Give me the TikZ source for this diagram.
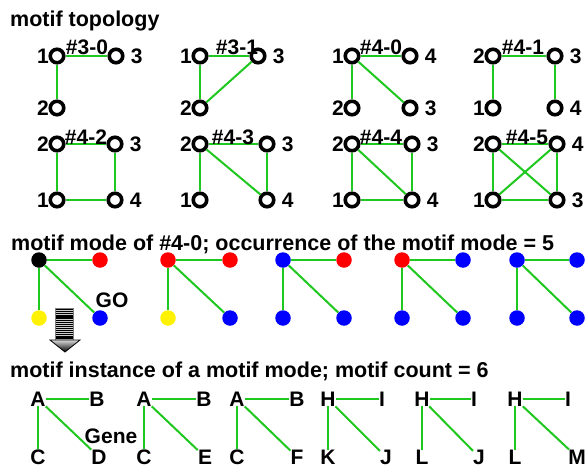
\documentclass[tikz,border=0pt]{standalone}
\usepackage{fontspec}
\setmainfont{Liberation Sans}
\definecolor{edgegreen}{RGB}{30,200,30}
\begin{document}
\begin{tikzpicture}[x=1pt, y=-1pt,
  tnode/.style={circle, draw, line width=3.6pt, fill=white, minimum size=13.5pt, inner sep=0pt},
  dot/.style={circle, fill=#1, minimum size=15.5pt, inner sep=0pt},
  gline/.style={edgegreen, line width=2pt},
  lab/.style={font=\fontsize{21}{21}\selectfont\bfseries, inner sep=0pt},
  ttl/.style={font=\fontsize{21.5}{21.5}\selectfont\bfseries, anchor=base west, inner sep=0pt},
  ln/.style={label={[lab, label distance=-0.5pt]left:#1}},
  rn/.style={label={[lab, label distance=6pt]right:#1}}]
  \useasboundingbox (0,0) rectangle (585,468);

  % titles
  \node[ttl] (t1) at (10,27) {motif topology};
  \node[ttl] (t2) at (11,250) {motif mode of \#4-0; occurrence of the motif mode = 5};
  \node[ttl] (t3) at (10,377) {motif instance of a motif mode; motif count = 6};

  % motif topology, first row
  \node[tnode, ln=1] (a1) at (57,56){};
  \node[tnode, rn=3] (a3) at (116,56){};
  \node[tnode, ln=2] (a2) at (57,108){};
  \draw[gline](a1) -- (a3);
  \draw[gline](a1) -- (a2);
  \node[lab] (la) at (87,47){\#3-0};

  \node[tnode, ln=1] (b1) at (200,56){};
  \node[tnode, rn=3] (b3) at (258,56){};
  \node[tnode, ln=2] (b2) at (200,108){};
  \draw[gline](b1) -- (b3);
  \draw[gline](b1) -- (b2);
  \draw[gline](b2) -- (b3);
  \node[lab] (lb) at (237,47){\#3-1};

  \node[tnode, ln=1] (c1) at (352,56){};
  \node[tnode, rn=4] (c4) at (410,56){};
  \node[tnode, ln=2] (c2) at (352,108){};
  \node[tnode, rn=3] (c3) at (410,108){};
  \draw[gline](c1) -- (c4);
  \draw[gline](c1) -- (c2);
  \draw[gline](c1) -- (c3);
  \node[lab] (lc) at (381,47){\#4-0};

  \node[tnode, ln=2] (d2) at (493,56){};
  \node[tnode, rn=3] (d3) at (555,56){};
  \node[tnode, ln=1] (d1) at (493,108){};
  \node[tnode, rn=4] (d4) at (555,108){};
  \draw[gline](d2) -- (d3);
  \draw[gline](d2) -- (d1);
  \draw[gline](d3) -- (d4);
  \node[lab] (ld) at (523,47){\#4-1};

  % motif topology, second row
  \node[tnode, ln=2] (e2) at (57,144){};
  \node[tnode, rn=3] (e3) at (115,144){};
  \node[tnode, ln=1] (e1) at (57,200){};
  \node[tnode, rn=4] (e4) at (115,200){};
  \draw[gline](e2) -- (e3);
  \draw[gline](e2) -- (e1);
  \draw[gline](e3) -- (e4);
  \draw[gline](e1) -- (e4);
  \node[lab] (le) at (86,137){\#4-2};

  \node[tnode, ln=2] (f2) at (200,144){};
  \node[tnode, rn=3] (f3) at (267,144){};
  \node[tnode, ln=1] (f1) at (200,200){};
  \node[tnode, rn=4] (f4) at (267,200){};
  \draw[gline](f2) -- (f3);
  \draw[gline](f2) -- (f1);
  \draw[gline](f2) -- (f4);
  \draw[gline](f3) -- (f4);
  \node[lab] (lf) at (233,137){\#4-3};

  \node[tnode, ln=2] (g2) at (352,144){};
  \node[tnode, rn=3] (g3) at (412,144){};
  \node[tnode, ln=1] (g1) at (352,200){};
  \node[tnode, rn=4] (g4) at (412,200){};
  \draw[gline](g2) -- (g3);
  \draw[gline](g2) -- (g1);
  \draw[gline](g2) -- (g4);
  \draw[gline](g3) -- (g4);
  \draw[gline](g1) -- (g4);
  \node[lab] (lg) at (381,137){\#4-4};

  \node[tnode, ln=2] (h2) at (493,144){};
  \node[tnode, rn=4] (h4) at (557,144){};
  \node[tnode, ln=1] (h1) at (493,200){};
  \node[tnode, rn=3] (h3) at (557,200){};
  \draw[gline](h2) -- (h4);
  \draw[gline](h2) -- (h1);
  \draw[gline](h2) -- (h3);
  \draw[gline](h4) -- (h1);
  \draw[gline](h4) -- (h3);
  \draw[gline](h1) -- (h3);
  \node[lab] (lh) at (527,137){\#4-5};

  % motif modes
  \node[dot=black] (m1a) at (39,260){};
  \node[dot=red] (m1b) at (100,260){};
  \node[dot=yellow] (m1c) at (39,318){};
  \node[dot=blue] (m1d) at (100,318){};
  \draw[gline](m1a) -- (m1b);
  \draw[gline](m1a) -- (m1c);
  \draw[gline](m1a) -- (m1d);
  \node[lab] (go) at (112,300){GO};

  \node[dot=red] (m2a) at (168,260){};
  \node[dot=red] (m2b) at (230,260){};
  \node[dot=yellow] (m2c) at (168,318){};
  \node[dot=blue] (m2d) at (230,318){};
  \draw[gline](m2a) -- (m2b);
  \draw[gline](m2a) -- (m2c);
  \draw[gline](m2a) -- (m2d);

  \node[dot=blue] (m3a) at (283,260){};
  \node[dot=red] (m3b) at (344,260){};
  \node[dot=blue] (m3c) at (283,318){};
  \node[dot=blue] (m3d) at (344,318){};
  \draw[gline](m3a) -- (m3b);
  \draw[gline](m3a) -- (m3c);
  \draw[gline](m3a) -- (m3d);

  \node[dot=red] (m4a) at (402,260){};
  \node[dot=blue] (m4b) at (463,260){};
  \node[dot=blue] (m4c) at (402,318){};
  \node[dot=blue] (m4d) at (463,318){};
  \draw[gline](m4a) -- (m4b);
  \draw[gline](m4a) -- (m4c);
  \draw[gline](m4a) -- (m4d);

  \node[dot=blue] (m5a) at (517,260){};
  \node[dot=blue] (m5b) at (577,260){};
  \node[dot=blue] (m5c) at (517,318){};
  \node[dot=blue] (m5d) at (577,318){};
  \draw[gline](m5a) -- (m5b);
  \draw[gline](m5a) -- (m5c);
  \draw[gline](m5a) -- (m5d);

  % arrow down to the instances
  \draw[gray, fill=gray!40] (55,308) rectangle (73,340);
  \draw[line width=17pt, dash pattern=on 1.2pt off 0.9pt] (64,309) -- (64,339);
  \shade[top color=gray!30, bottom color=black, draw=black, line width=0.8pt] (50,340) -- (80,340) -- (65,352) -- cycle;

  % motif instances
  \node[lab] (i1a) at (38,399){A};
  \node[lab] (i1b) at (97,399){B};
  \node[lab] (i1c) at (38,457){C};
  \node[lab] (i1d) at (99,457){D};
  \draw[gline](i1a) -- (i1b);
  \draw[gline](i1a) -- (i1c);
  \draw[gline](i1a) -- (i1d);
  \node[lab] (gene) at (111,436){Gene};

  \node[lab] (i2a) at (144,399){A};
  \node[lab] (i2b) at (204,399){B};
  \node[lab] (i2c) at (144,457){C};
  \node[lab] (i2e) at (205,457){E};
  \draw[gline](i2a) -- (i2b);
  \draw[gline](i2a) -- (i2c);
  \draw[gline](i2a) -- (i2e);

  \node[lab] (i3a) at (237,399){A};
  \node[lab] (i3b) at (297,399){B};
  \node[lab] (i3c) at (237,457){C};
  \node[lab] (i3f) at (297,457){F};
  \draw[gline](i3a) -- (i3b);
  \draw[gline](i3a) -- (i3c);
  \draw[gline](i3a) -- (i3f);

  \node[lab] (i4h) at (328,399){H};
  \node[lab] (i4i) at (382,399){I};
  \node[lab] (i4k) at (328,457){K};
  \node[lab] (i4j) at (386,457){J};
  \draw[gline](i4h) -- (i4i);
  \draw[gline](i4h) -- (i4k);
  \draw[gline](i4h) -- (i4j);

  \node[lab] (i5h) at (422,399){H};
  \node[lab] (i5i) at (474,399){I};
  \node[lab] (i5l) at (422,457){L};
  \node[lab] (i5j) at (479,457){J};
  \draw[gline](i5h) -- (i5i);
  \draw[gline](i5h) -- (i5l);
  \draw[gline](i5h) -- (i5j);

  \node[lab] (i6h) at (515,399){H};
  \node[lab] (i6i) at (568,399){I};
  \node[lab] (i6l) at (515,457){L};
  \node[lab] (i6m) at (577,457){M};
  \draw[gline](i6h) -- (i6i);
  \draw[gline](i6h) -- (i6l);
  \draw[gline](i6h) -- (i6m);
\end{tikzpicture}
\end{document}
